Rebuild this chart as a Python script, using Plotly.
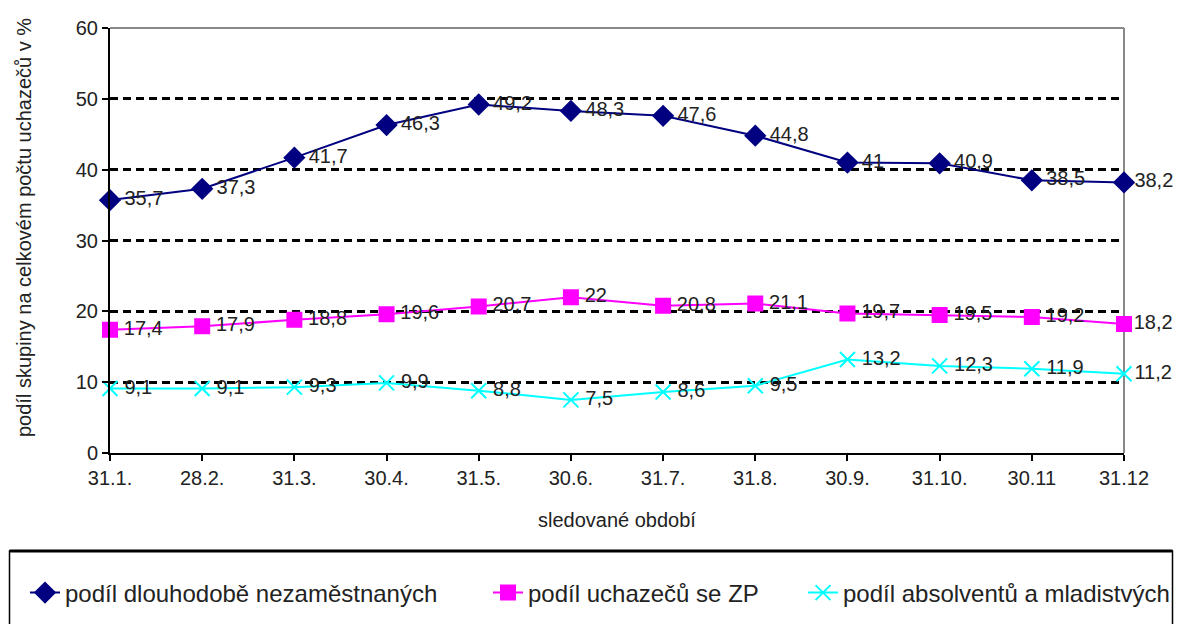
import plotly.graph_objects as go

categories = ["31.1.", "28.2.", "31.3.", "30.4.", "31.5.", "30.6.", "31.7.", "31.8.", "30.9.", "31.10.", "30.11", "31.12"]
dlouhodobe = [35.7, 37.3, 41.7, 46.3, 49.2, 48.3, 47.6, 44.8, 41, 40.9, 38.5, 38.2]
zp = [17.4, 17.9, 18.8, 19.6, 20.7, 22, 20.8, 21.1, 19.7, 19.5, 19.2, 18.2]
absolventi = [9.1, 9.1, 9.3, 9.9, 8.8, 7.5, 8.6, 9.5, 13.2, 12.3, 11.9, 11.2]

names = ["podíl dlouhodobě nezaměstnaných", "podíl uchazečů se ZP", "podíl absolventů a mladistvých"]
colors = ["#000080", "#FF00FF", "#00FFFF"]
symbols = ["diamond", "square", "x-thin-open"]
sizes = [15, 14, 15]
legend_ids = ["legend", "legend2", "legend3"]

FONT = "Liberation Sans, Arial, sans-serif"
TXT = "#222222"

# the page body has an 8px margin; figure is placed at (8, 8) and must not overflow
OFF = 8
FIG_W, FIG_H = 1182 - 2 * OFF, 632 - 2 * OFF
# plot area in page px: left 110, right 1124, top 28, bottom 453
L, R, T, B = 110, 1124, 28, 453
W, H = R - L, B - T

def px_x(p):
    return (p - L) / W

def px_y(p):
    return (B - p) / H

def labels(vals):
    out = []
    for i, v in enumerate(vals):
        s = ("%g" % v).replace(".", ",")
        out.append(s if i == len(vals) - 1 else "\u2009" + s)
    return out

xs = list(range(len(categories)))
fig = go.Figure()
for vals, name, col, sym, sz, lg in zip([dlouhodobe, zp, absolventi], names, colors, symbols, sizes, legend_ids):
    fig.add_trace(go.Scatter(
        x=xs, y=vals, name=name, mode="lines+markers+text", legend=lg,
        line=dict(color=col, width=2),
        marker=dict(symbol=sym, size=sz, color=col, line=dict(color=col, width=2)),
        text=labels(vals), textposition="middle right",
        textfont=dict(family=FONT, size=20, color=TXT),
        cliponaxis=False,
    ))

legend_common = dict(orientation="h", yanchor="middle", y=px_y(593), xanchor="left",
                     font=dict(family=FONT, size=24, color=TXT),
                     bgcolor="rgba(0,0,0,0)", borderwidth=0)

fig.update_layout(
    width=FIG_W, height=FIG_H,
    margin=dict(l=L - OFF, r=(FIG_W + OFF) - R, t=T - OFF, b=(FIG_H + OFF) - B, autoexpand=False),
    paper_bgcolor="white", plot_bgcolor="white",
    font=dict(family=FONT, size=20, color=TXT),
    showlegend=True,
    legend=dict(x=px_x(25), **legend_common),
    legend2=dict(x=px_x(488), **legend_common),
    legend3=dict(x=px_x(803), **legend_common),
    xaxis=dict(
        range=[0, 11], tickmode="array", tickvals=xs, ticktext=categories,
        showgrid=False, zeroline=False, showline=True, linecolor="black", linewidth=2,
        ticks="outside", ticklen=6, tickwidth=2, tickcolor="black",
        tickfont=dict(size=20, color=TXT),
    ),
    yaxis=dict(
        range=[0, 60], tickvals=[0, 10, 20, 30, 40, 50, 60],
        showgrid=True, gridcolor="black", griddash="8px,5px", gridwidth=2.5,
        zeroline=False, showline=True, linecolor="black", linewidth=2,
        ticks="outside", ticklen=6, tickwidth=2, tickcolor="black",
        tickfont=dict(size=20, color=TXT),
    ),
    shapes=[
        dict(type="line", xref="paper", yref="paper", x0=0, x1=1, y0=1, y1=1,
             line=dict(color="#888888", width=2), layer="below"),
        dict(type="line", xref="paper", yref="paper", x0=1, x1=1, y0=0, y1=1,
             line=dict(color="#888888", width=2), layer="below"),
        dict(type="rect", xref="paper", yref="paper", x0=px_x(9.5), x1=px_x(1172.5), y0=px_y(660), y1=px_y(551),
             line=dict(color="black", width=1.5), layer="below"),
        dict(type="line", xref="paper", yref="paper", x0=px_x(9.5), x1=px_x(1172.5), y0=px_y(551), y1=px_y(551),
             line=dict(color="black", width=3)),
    ],
    annotations=[
        dict(text="sledované období", xref="paper", yref="paper", x=px_x(617), y=px_y(520),
             showarrow=False, font=dict(size=20, color=TXT), xanchor="center", yanchor="middle"),
        dict(text="podíl skupiny na celkovém počtu uchazečů v %", xref="paper", yref="paper",
             x=px_x(24), y=px_y(228), textangle=-90, showarrow=False,
             font=dict(size=20, color=TXT), xanchor="center", yanchor="middle"),
    ],
)

fig.write_html("out.html")
